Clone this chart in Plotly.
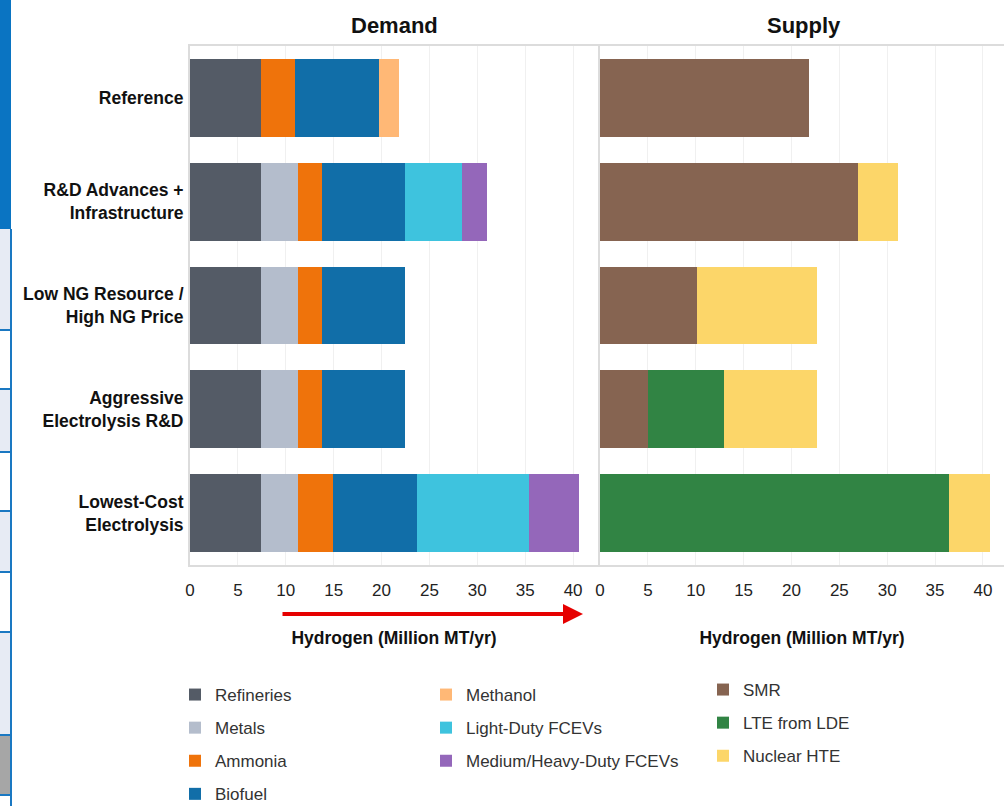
import plotly.graph_objects as go

# ---- data -------------------------------------------------------------
scenarios = [
    "Reference",
    "R&D Advances +<br>Infrastructure",
    "Low NG Resource /<br>High NG Price",
    "Aggressive<br>Electrolysis R&D",
    "Lowest-Cost<br>Electrolysis",
]

# demand by end use (million MT/yr)
refineries = [7.4, 7.4, 7.4, 7.4, 7.4]
metals = [0.0, 3.9, 3.9, 3.9, 3.9]
ammonia = [3.6, 2.5, 2.5, 2.5, 3.6]
biofuel = [8.7, 8.7, 8.7, 8.7, 8.8]
methanol = [2.1, 0.0, 0.0, 0.0, 0.0]
light_duty = [0.0, 5.9, 0.0, 0.0, 11.7]
medium_heavy = [0.0, 2.6, 0.0, 0.0, 5.2]

# supply by production route (million MT/yr)
smr = [21.8, 26.9, 10.1, 5.0, 0.0]
lte_lde = [0.0, 0.0, 0.0, 8.0, 36.5]
nuclear_hte = [0.0, 4.2, 12.6, 9.7, 4.2]

x_ticks = [0, 5, 10, 15, 20, 25, 30, 35, 40]

# ---- styling ------------------------------------------------------------
W, H = 1004, 806
ML, MR, MT, MB = 190, 0, 46, 241
PW, PH = W - ML - MR, H - MT - MB

FONT = "Liberation Sans, Arial, sans-serif"


def px_x(p):
    return (p - ML) / PW


def px_y(p):
    return (H - MB - p) / PH


demand_series = [
    ("Refineries", refineries, "#545b66", "legend"),
    ("Metals", metals, "#b4bdcc", "legend"),
    ("Ammonia", ammonia, "#ef730b", "legend"),
    ("Biofuel", biofuel, "#116ea8", "legend"),
    ("Methanol", methanol, "#ffb876", "legend2"),
    ("Light-Duty FCEVs", light_duty, "#3ec3de", "legend2"),
    ("Medium/Heavy-Duty FCEVs", medium_heavy, "#9467ba", "legend2"),
]
supply_series = [
    ("SMR", smr, "#866451", "legend3"),
    ("LTE from LDE", lte_lde, "#318444", "legend3"),
    ("Nuclear HTE", nuclear_hte, "#fcd669", "legend3"),
]

fig = go.Figure()
for name, vals, color, leg in demand_series:
    fig.add_trace(go.Bar(
        y=scenarios, x=vals, name=name, orientation="h",
        marker=dict(color=color, line=dict(width=0)),
        xaxis="x", yaxis="y", legend=leg, legendgroup=name,
    ))
for name, vals, color, leg in supply_series:
    fig.add_trace(go.Bar(
        y=scenarios, x=vals, name=name, orientation="h",
        marker=dict(color=color, line=dict(width=0)),
        xaxis="x2", yaxis="y2", legend=leg, legendgroup=name,
    ))

axis_line = "#dcdcdc"
grid = "#f0f0f0"
xcommon = dict(
    tickvals=x_ticks, showgrid=True, gridcolor=grid, gridwidth=1,
    zeroline=False, showline=True, mirror=True, linecolor=axis_line, linewidth=2,
    ticks="", ticklabelstandoff=9, automargin=False,
    tickfont=dict(family=FONT, size=17, color="#222222"),
    title=dict(text="Hydrogen (Million MT/yr)", standoff=32,
               font=dict(family=FONT, size=17.5, color="#111111", weight="bold")),
)
ycommon = dict(
    type="category", categoryorder="array", categoryarray=scenarios,
    autorange="reversed", showgrid=False, zeroline=False, automargin=False,
    showline=True, linecolor=axis_line, linewidth=2, ticks="",
)

legend_common = dict(
    xanchor="left", yanchor="top", bgcolor="rgba(0,0,0,0)",
    font=dict(family=FONT, size=17, color="#333333"),
    traceorder="grouped", tracegroupgap=8, itemclick=False,
)

fig.update_layout(
    width=W, height=H,
    margin=dict(l=ML, r=MR, t=MT, b=MB, pad=0, autoexpand=False),
    paper_bgcolor="white", plot_bgcolor="white",
    barmode="stack", bargap=0.25,
    xaxis=dict(domain=[0, px_x(598)], range=[0, 42.6], anchor="y", **xcommon),
    xaxis2=dict(domain=[px_x(600), 1], range=[0, 42.2], anchor="y2", **xcommon),
    yaxis=dict(anchor="x", ticklabelstandoff=1,
               tickfont=dict(family=FONT, size=17.5, color="#111111", weight="bold"),
               **ycommon),
    yaxis2=dict(anchor="x2", matches="y", showticklabels=False, **ycommon),
    legend=dict(x=px_x(175), y=px_y(677), **legend_common),
    legend2=dict(x=px_x(426), y=px_y(677), **legend_common),
    legend3=dict(x=px_x(703), y=px_y(672), **legend_common),
    showlegend=True,
)

# panel headings
for label, xc in (("Demand", px_x(394)), ("Supply", px_x(804))):
    fig.add_annotation(
        text=label, xref="paper", yref="paper", x=xc, y=px_y(25),
        xanchor="center", yanchor="middle", showarrow=False,
        font=dict(family=FONT, size=22, color="#111111", weight="bold"),
    )

# red arrow under the demand axis
fig.add_annotation(
    xref="paper", yref="paper", x=px_x(583), y=px_y(614),
    axref="pixel", ayref="pixel", ax=-(583 - 281), ay=0,
    text="", showarrow=True, arrowhead=2, arrowsize=1.0, arrowwidth=4,
    arrowcolor="#e60000",
)

# side strip with the table rows at the left edge
shapes = []
shapes.append(dict(type="rect", xref="paper", yref="paper",
                   x0=px_x(0), x1=px_x(11), y0=px_y(229), y1=px_y(0),
                   fillcolor="#0a74c2", line=dict(width=0), layer="above"))
rows = [
    (229, 330, "#e7ebf4"), (330, 389, "#ffffff"), (389, 452, "#e7ebf4"),
    (452, 511, "#ffffff"), (511, 572, "#e7ebf4"), (572, 632, "#ffffff"),
    (632, 735, "#e7ebf4"), (735, 795, "#a6a6a6"), (795, 806, "#ffffff"),
]
for top, bot, col in rows:
    shapes.append(dict(type="rect", xref="paper", yref="paper",
                       x0=px_x(0), x1=px_x(11), y0=px_y(bot), y1=px_y(top),
                       fillcolor=col, line=dict(width=0), layer="above"))
for yl in (330, 389, 452, 511, 572, 632, 735, 795):
    shapes.append(dict(type="line", xref="paper", yref="paper",
                       x0=px_x(0), x1=px_x(11), y0=px_y(yl), y1=px_y(yl),
                       line=dict(color="#1a78c2", width=2), layer="above"))
shapes.append(dict(type="line", xref="paper", yref="paper",
                   x0=px_x(11), x1=px_x(11), y0=px_y(806), y1=px_y(229),
                   line=dict(color="#1a78c2", width=2), layer="above"))
fig.update_layout(shapes=shapes)

fig.write_html("out.html")
